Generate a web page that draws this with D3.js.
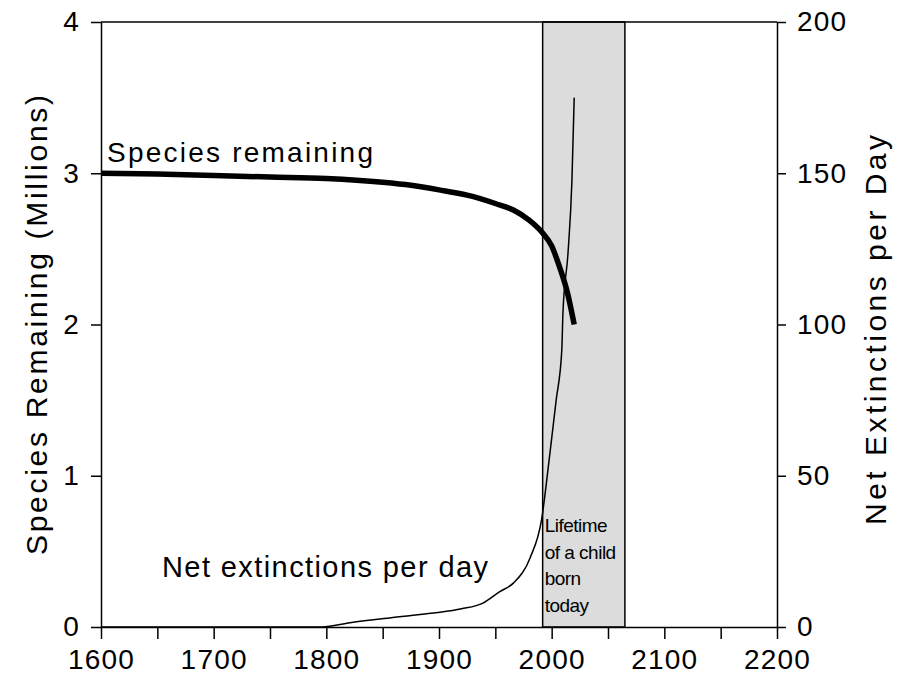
<!DOCTYPE html>
<html>
<head>
<meta charset="utf-8">
<script src="https://cdn.jsdelivr.net/npm/d3@7"></script>
<style>
  html, body { margin: 0; padding: 0; background: #fff; }
  svg { display: block; }
  text { font-family: "Liberation Sans", Arial, Helvetica, sans-serif; fill: #000; }
</style>
</head>
<body>
<svg id="chart" width="902" height="679"></svg>
<script>
// ---- data ----
const speciesYears  = [1600, 1650, 1700, 1750, 1800, 1850, 1875, 1900, 1925, 1950, 1966, 1980, 1992, 2000, 2007, 2014, 2020];
const speciesValues = [3.00, 2.995, 2.985, 2.975, 2.965, 2.94, 2.92, 2.89, 2.855, 2.80, 2.757, 2.69, 2.605, 2.52, 2.38, 2.21, 2.00];

const extinctYears  = [1600, 1700, 1796, 1821, 1856, 1895, 1920, 1939, 1954, 1966, 1981, 1991, 1998, 2004, 2009, 2010, 2014.5, 2018, 2020];
const extinctValues = [0, 0, 0, 1.4, 3.0, 4.6, 6.0, 7.9, 11.7, 14.5, 23, 35.4, 56, 75, 91.6, 103.8, 123.6, 147.8, 175];

const lifetimeSpan = [1992, 2065];
const lifetimeLines = ["Lifetime", "of a child", "born", "today"];

const xTicks = [1600, 1650, 1700, 1750, 1800, 1850, 1900, 1950, 2000, 2050, 2100, 2150, 2200];
const leftTicks = [0, 1, 2, 3, 4];
const rightTicks = [0, 50, 100, 150, 200];

const leftTitle = "Species Remaining (Millions)";
const rightTitle = "Net Extinctions per Day";
const speciesLabel = "Species remaining";
const extinctLabel = "Net extinctions per day";

// ---- layout ----
const W = 902, H = 679;
const m = { left: 101, right: 125, top: 22, bottom: 52 };
const iw = W - m.left - m.right, ih = H - m.top - m.bottom;

const svg = d3.select("#chart");
const g = svg.append("g").attr("transform", `translate(${m.left},${m.top})`);

const x = d3.scaleLinear().domain([1600, 2200]).range([0, iw]);
const yL = d3.scaleLinear().domain([0, 4]).range([ih, 0]);
const yR = d3.scaleLinear().domain([0, 200]).range([ih, 0]);

// shaded lifetime band
g.append("rect")
  .attr("x", x(lifetimeSpan[0]))
  .attr("y", yL(4))
  .attr("width", x(lifetimeSpan[1]) - x(lifetimeSpan[0]))
  .attr("height", yL(0) - yL(4))
  .attr("fill", "#dcdcdc")
  .attr("stroke", "#000")
  .attr("stroke-width", 1.5);

// band text
const bandText = g.append("text")
  .attr("font-size", 19)
  .attr("letter-spacing", -0.5);
lifetimeLines.forEach((t, i) => {
  bandText.append("tspan")
    .attr("x", x(lifetimeSpan[0]) + 2)
    .attr("y", 532 - m.top + i * 26.5)
    .text(t);
});

// axes
const tickFont = 28;
const axL = g.append("g")
  .call(d3.axisLeft(yL).tickValues(leftTicks).tickSize(10).tickSizeOuter(0).tickPadding(11).tickFormat(d3.format("d")));
const axR = g.append("g").attr("transform", `translate(${iw},0)`)
  .call(d3.axisRight(yR).tickValues(rightTicks).tickSize(9).tickSizeOuter(0).tickPadding(11).tickFormat(d3.format("d")));
const axB = g.append("g").attr("transform", `translate(0,${ih})`)
  .call(d3.axisBottom(x).tickValues(xTicks).tickSize(12).tickSizeOuter(0).tickPadding(10)
    .tickFormat(d => d % 100 === 0 ? d3.format("d")(d) : ""));

[axL, axR, axB].forEach(a => {
  a.selectAll("path, line").attr("stroke", "#000").attr("stroke-width", 1.5);
  a.selectAll("text").attr("font-size", tickFont).attr("letter-spacing", 1.2)
    .attr("font-family", "'Liberation Sans', Arial, sans-serif").attr("fill", "#000");
});

// top frame line
g.append("line")
  .attr("x1", x(1600)).attr("x2", x(2200))
  .attr("y1", yL(4)).attr("y2", yL(4))
  .attr("stroke", "#000").attr("stroke-width", 1.5);

// extinctions line (thin)
const extData = extinctYears.map((yr, i) => [yr, extinctValues[i]]);
g.append("path")
  .datum(extData)
  .attr("fill", "none")
  .attr("stroke", "#000")
  .attr("stroke-width", 1.5)
  .attr("d", d3.line().curve(d3.curveMonotoneX).x(d => x(d[0])).y(d => yR(d[1])));

// species line (thick)
const spData = speciesYears.map((yr, i) => [yr, speciesValues[i]]);
g.append("path")
  .datum(spData)
  .attr("fill", "none")
  .attr("stroke", "#000")
  .attr("stroke-width", 5.5)
  .attr("stroke-linejoin", "round")
  .attr("stroke-linecap", "butt")
  .attr("d", d3.line().curve(d3.curveMonotoneX).x(d => x(d[0])).y(d => yL(d[1])));

// series labels
svg.append("text")
  .attr("x", 107).attr("y", 162)
  .attr("font-size", 28)
  .attr("textLength", 266).attr("lengthAdjust", "spacing")
  .text(speciesLabel);

svg.append("text")
  .attr("x", 162).attr("y", 577)
  .attr("font-size", 29)
  .attr("textLength", 326).attr("lengthAdjust", "spacing")
  .text(extinctLabel);

// axis titles
svg.append("text")
  .attr("transform", `translate(47,325) rotate(-90)`)
  .attr("x", -230)
  .attr("font-size", 30)
  .attr("textLength", 460).attr("lengthAdjust", "spacing")
  .text(leftTitle);

svg.append("text")
  .attr("transform", `translate(886,330) rotate(-90)`)
  .attr("x", -195)
  .attr("font-size", 30)
  .attr("textLength", 390).attr("lengthAdjust", "spacing")
  .text(rightTitle);
</script>
</body>
</html>
